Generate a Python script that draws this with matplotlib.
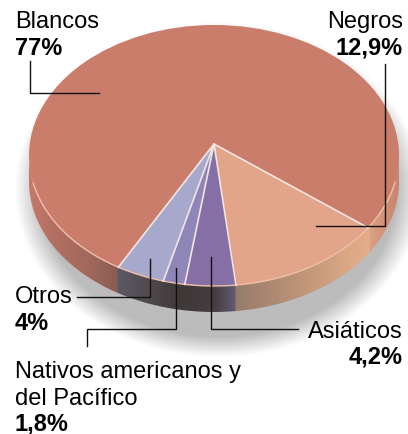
import matplotlib
matplotlib.use("Agg")
import matplotlib.pyplot as plt
import numpy as np
from matplotlib.patches import Ellipse, Polygon, PathPatch
from matplotlib.path import Path

plt.rcParams['font.family'] = ['Liberation Sans', 'DejaVu Sans']

# clockwise on screen, starting at the Asiaticos / Negros edge
categories = ["Asiáticos", "Nativos", "Otros", "Blancos", "Negros"]
values = [4.2, 1.8, 4.0, 77.0, 12.9]
colors = ["#866fa4", "#8e86b8", "#a6a9cb", "#cb7d6b", "#e2a58a"]

cx, cy, rx, ry = 214, 156.5, 185, 130.5
ax0, ay0 = 214, 145
depth = 26
start = 6.5

fig = plt.figure(figsize=(4.08, 4.35), dpi=100)
ax = fig.add_axes([0, 0, 1, 1])
ax.set_xlim(0, 408)
ax.set_ylim(435, 0)
ax.axis("off")


def rim(theta):
    # ray from the apex to the ellipse edge, theta in degrees from straight down
    t = np.radians(theta)
    dx, dy = 1.06 * rx * np.sin(t), 143 * np.cos(t)
    a = (dx / rx) ** 2 + (dy / ry) ** 2
    b = 2 * (ay0 - cy) * dy / ry ** 2
    c = ((ay0 - cy) / ry) ** 2 - 1
    k = (-b + np.sqrt(b * b - 4 * a * c)) / (2 * a)
    return ax0 + k * dx, ay0 + k * dy


# soft shadow under the pie
X, Y = np.meshgrid(np.arange(408), np.arange(435))
d = np.sqrt(((X - 218) / 192.0) ** 2 + ((Y - 190) / 158.0) ** 2)
alpha = np.clip((1.06 - d) / 0.13, 0, 1)
shadow = np.zeros((435, 408, 4))
shadow[..., :3] = 0.74
shadow[..., 3] = alpha
ax.imshow(shadow, extent=(0, 408, 435, 0), zorder=1, aspect="auto")

# side of the pie, coloured column by column
side_x = [29, 50, 90, 116, 118, 140, 180, 215, 234, 236, 280, 340, 368, 371, 399]
side_r = [196, 180, 160, 140, 92, 84, 62, 70, 98, 150, 178, 214, 228, 218, 200]
side_g = [122, 112, 104, 92, 88, 78, 56, 62, 90, 124, 140, 165, 172, 158, 130]
side_b = [106, 98, 92, 84, 100, 84, 56, 66, 110, 108, 116, 130, 138, 130, 110]
cols = np.arange(408)
grad = np.dstack([np.interp(cols, side_x, c) / 255 for c in (side_r, side_g, side_b)])
th = np.linspace(0, 2 * np.pi, 400)
lower = th[:200]
xs = cx + rx * np.cos(lower)
ys = cy + ry * np.sin(lower)
side_pts = np.r_[np.c_[xs, ys + depth], np.c_[xs[::-1], ys[::-1]]]
side_patch = PathPatch(Path(np.r_[side_pts, side_pts[:1]]), fc="none", ec="none")
ax.add_patch(side_patch)
im = ax.imshow(grad, extent=(0, 408, 435, 0), zorder=2, aspect="auto")
im.set_clip_path(side_patch)

# top face
ax.add_patch(Ellipse((cx, cy), 2 * rx, 2 * ry, fc=colors[3], ec="none", zorder=3))
lim = start
edges = []
for name, val, col in zip(categories, values, colors):
    sweep = val * 3.6
    thetas = np.linspace(lim, lim - sweep, 80)
    pts = [rim(t) for t in thetas]
    edges.append(pts)
    if name != "Blancos":
        ax.add_patch(Polygon([(ax0, ay0)] + pts, fc=col, ec="none", zorder=4))
    lim -= sweep
# light rim on the front edge, only where the side shows
front = ys > 183
ax.plot(xs[front], ys[front], color="#eec0ac", lw=1.0, zorder=5)
# light separators
for pts in edges:
    ax.plot([ax0, pts[0][0]], [ay0, pts[0][1]], color="#f3e6e2", lw=1.2, zorder=6)

# leader lines
leaders = [
    ([30, 30, 99], [62, 94, 94]),
    ([385, 385, 316], [65, 227, 227]),
    ([77, 150, 150], [298, 298, 260]),
    ([87, 87, 176, 176], [347, 330, 330, 269]),
    ([298, 211, 211], [330, 330, 258]),
]
for lx, ly in leaders:
    ax.plot(lx, ly, color="#111111", lw=1.0, zorder=7, solid_joinstyle="miter")

fs = 17
ax.text(15, 28, "Blancos", fontsize=fs, va="baseline", zorder=8)
ax.text(15, 55, "77%", fontsize=fs, weight="bold", va="baseline", zorder=8)
ax.text(403, 28, "Negros", fontsize=fs, ha="right", zorder=8)
ax.text(403, 55, "12,9%", fontsize=fs, weight="bold", ha="right", zorder=8)
ax.text(15, 303, "Otros", fontsize=fs, zorder=8)
ax.text(15, 330, "4%", fontsize=fs, weight="bold", zorder=8)
ax.text(403, 338, "Asiáticos", fontsize=fs, ha="right", zorder=8)
ax.text(403, 364, "4,2%", fontsize=fs, weight="bold", ha="right", zorder=8)
ax.text(15, 378, "Nativos americanos y", fontsize=fs, zorder=8)
ax.text(15, 405, "del Pacífico", fontsize=fs, zorder=8)
ax.text(15, 431, "1,8%", fontsize=fs, weight="bold", zorder=8)

fig.savefig("out.png", dpi=100)
